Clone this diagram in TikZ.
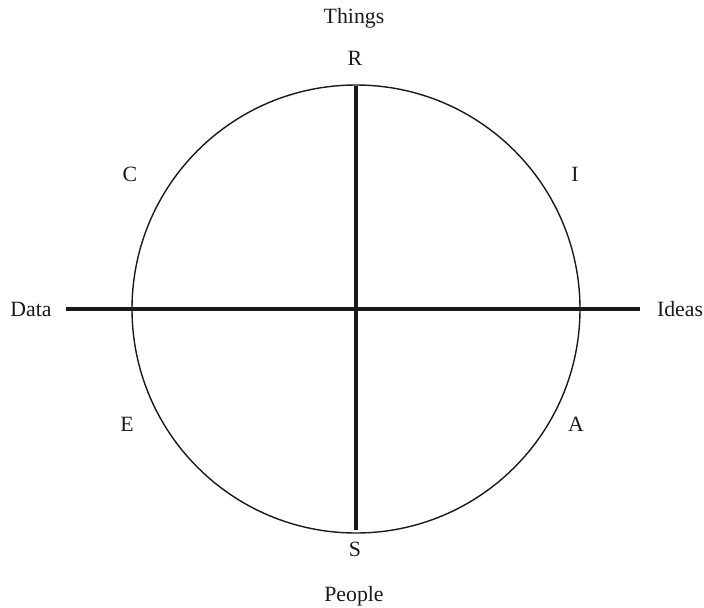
\documentclass[tikz,border=0pt]{standalone}
\usepackage{fontspec}
\setmainfont{Liberation Serif}
\usetikzlibrary{positioning,calc}
\definecolor{ink}{HTML}{1A1A1A}
\tikzset{
  every node/.style={font=\fontsize{15.5}{17}\selectfont, text=ink},
  % --- nodes
  lbl/.style   = {inner sep=0pt, anchor=center},
  % --- edges
  rim/.style   = {draw=ink, line width=1pt},
  axis/.style  = {draw=ink, line width=2.6pt},
}

\begin{document}
\begin{tikzpicture}[x=0.025cm, y=-0.025cm]
  \useasboundingbox (0,0) rectangle (704,607);

  \coordinate (o)     at (356,309);
  \coordinate (north) at (356,86);
  \coordinate (south) at (356,530);
  \coordinate (west)  at (66,309);
  \coordinate (east)  at (640,309);

  \draw[rim] (o) circle[radius=224];
  \draw[axis] (north) -- (south);
  \draw[axis] (west) -- (east);

  \node[lbl] (things) at (354,18)  {Things};
  \node[lbl] (r)      at (355,58)  {R};
  \node[lbl] (c)      at (130,174) {C};
  \node[lbl] (i)      at (575,174) {I};
  \node[lbl] (data)   at (31,309)  {Data};
  \node[lbl] (ideas)  at (680,309) {Ideas};
  \node[lbl] (e)      at (127,424) {E};
  \node[lbl] (a)      at (576,424) {A};
  \node[lbl] (s)      at (355,549) {S};
  \node[lbl] (people) at (354,596) {People};
\end{tikzpicture}
\end{document}
